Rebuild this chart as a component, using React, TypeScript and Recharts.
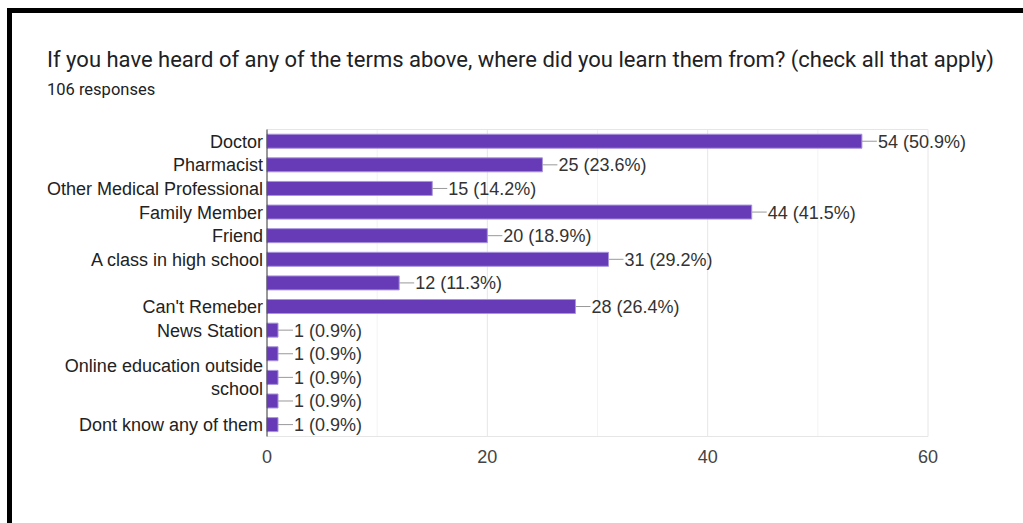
import { BarChart, Bar, XAxis, YAxis, CartesianGrid, LabelList } from 'recharts';

const TITLE = 'If you have heard of any of the terms above, where did you learn them from? (check all that apply)';
const TOTAL_RESPONSES = 106;

const categories = [
  'Doctor',
  'Pharmacist',
  'Other Medical Professional',
  'Family Member',
  'Friend',
  'A class in high school',
  '',
  "Can't Remeber",
  'News Station',
  '',
  'Online education outside school',
  '',
  'Dont know any of them',
];
const counts = [54, 25, 15, 44, 20, 31, 12, 28, 1, 1, 1, 1, 1];
const xTicks = [0, 20, 40, 60];
const minorGrid = [10, 30, 50];
const majorGrid = [20, 40, 60];

const data = categories.map((name, i) => ({ id: i, name, count: counts[i] }));

const FONT = '"Liberation Sans", Arial, sans-serif';
const LINE_H = 23;

// break long labels the way the Forms chart does (roughly 26 chars a line)
function wrapLabel(s: string, max = 26): string[] {
  if (s.length <= max) return [s];
  const words = s.split(' ');
  const lines: string[] = [];
  let cur = '';
  words.forEach((w) => {
    const next = cur ? `${cur} ${w}` : w;
    if (next.length > max && cur) {
      lines.push(cur);
      cur = w;
    } else cur = next;
  });
  if (cur) lines.push(cur);
  return lines;
}

function CategoryTick(props: any) {
  const { x, y, payload } = props;
  const lines = wrapLabel(categories[payload.value] ?? '');
  const startY = y - ((lines.length - 1) * LINE_H) / 2;
  return (
    <text x={x} textAnchor="end" fontSize={18} fontFamily={FONT} fill="#222">
      {lines.map((l, i) => (
        <tspan key={i} x={x} y={startY + i * LINE_H} dy="0.36em">
          {l}
        </tspan>
      ))}
    </text>
  );
}

function ValueLabel(props: any) {
  const { x, y, width, height, value } = props;
  const endX = x + width;
  const cy = y + height / 2;
  const pct = ((value / TOTAL_RESPONSES) * 100).toFixed(1);
  return (
    <g>
      <line x1={endX} y1={cy} x2={endX + 15} y2={cy} stroke="#999" strokeWidth={1} />
      <text x={endX + 16} y={cy} dy="0.36em" fontSize={18} fontFamily={FONT} fill="#333">
        {`${value} (${pct}%)`}
      </text>
    </g>
  );
}

function gridAt(values: number[]) {
  return ({ xAxis, offset }: any) => {
    if (xAxis && typeof xAxis.scale === 'function') return values.map((v) => xAxis.scale(v));
    return values.map((v) => offset.left + (v / 60) * offset.width);
  };
}

export default function App() {
  return (
    <div
      style={{
        position: 'absolute',
        left: 7,
        top: 8,
        width: 1016,
        height: 515,
        boxSizing: 'border-box',
        borderTop: '5px solid #000',
        borderLeft: '5px solid #000',
        background: '#fff',
        overflow: 'hidden',
      }}
    >
      <div
        style={{
          position: 'absolute',
          left: 35,
          top: 34,
          fontFamily: 'Roboto, sans-serif',
          fontSize: 22,
          color: '#202124',
          whiteSpace: 'nowrap',
        }}
      >
        {TITLE}
      </div>
      <div
        style={{
          position: 'absolute',
          left: 35,
          top: 67,
          fontFamily: 'Roboto, sans-serif',
          fontSize: 16.5,
          color: '#202124',
        }}
      >
        {`${TOTAL_RESPONSES} responses`}
      </div>
      <div style={{ position: 'absolute', left: 0, top: 0 }}>
        <BarChart
          width={1011}
          height={510}
          data={data}
          layout="vertical"
          barCategoryGap="20%"
          margin={{ top: 116.5, right: 95, bottom: 56.5, left: 0 }}
        >
          <CartesianGrid
            stroke="#f3f3f3"
            horizontal={false}
            verticalCoordinatesGenerator={gridAt(minorGrid)}
          />
          <CartesianGrid
            stroke="#e6e6e6"
            verticalCoordinatesGenerator={gridAt(majorGrid)}
            horizontalCoordinatesGenerator={({ offset }: any) => [offset.top, offset.top + offset.height]}
          />
          <XAxis
            type="number"
            domain={[0, 60]}
            ticks={xTicks}
            axisLine={false}
            tickLine={false}
            tickSize={0}
            tickMargin={14}
            height={30}
            tick={{ fontSize: 18, fontFamily: FONT, fill: '#444' }}
          />
          <YAxis
            type="category"
            dataKey="id"
            width={255}
            axisLine={{ stroke: '#333', strokeWidth: 1 }}
            tickLine={false}
            tickSize={0}
            tickMargin={4}
            interval={0}
            tick={<CategoryTick />}
          />
          <Bar dataKey="count" fill="#673ab7" stroke="#a995dc" strokeWidth={1} isAnimationActive={false}>
            <LabelList dataKey="count" content={<ValueLabel />} />
          </Bar>
        </BarChart>
      </div>
    </div>
  );
}
